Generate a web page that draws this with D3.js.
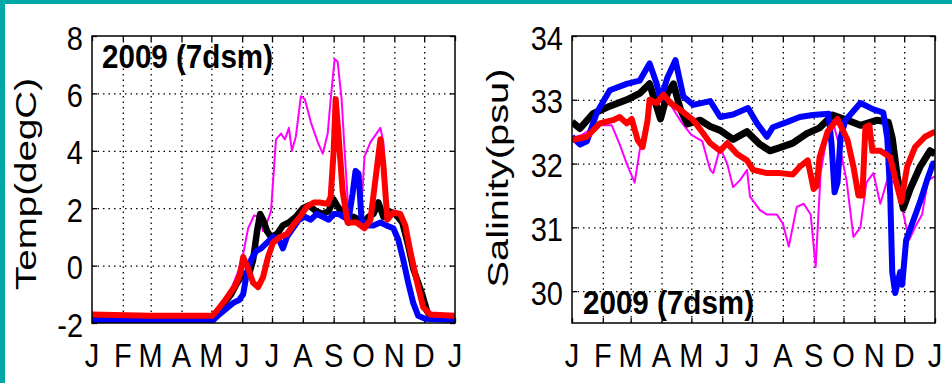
<!DOCTYPE html>
<html>
<head>
<meta charset="utf-8">
<script src="https://cdnjs.cloudflare.com/ajax/libs/d3/7.8.5/d3.min.js"></script>
<style>
  body { margin: 0; background: #fff; }
  svg { display: block; font-family: "Liberation Sans", Arial, sans-serif; }
</style>
</head>
<body>
<svg width="952" height="383"></svg>
<script>
// month letters for the x axis (Jan 2009 .. Jan 2010)
const months = ["J","F","M","A","M","J","J","A","S","O","N","D","J"];
const tempTicks = [-2, 0, 2, 4, 6, 8];
const salTicks = [30, 31, 32, 33, 34];

// [day of year, value]
const tempMagenta = [[0,-1.8],[120,-1.8],[128,-1.5],[140,-0.8],[146,-0.3],[152,0.4],[157,1.3],[163,1.75],[168,1.7],[172,1.2],[176,1.5],[180,1.9],[185,4.4],[190,4.6],[194,4.4],[198,4.8],[201,4.0],[205,4.5],[210,5.9],[214,5.8],[220,5.0],[227,4.3],[232,3.9],[237,4.6],[240,5.8],[244,7.2],[247,7.1],[251,5.8],[254,4.0],[258,1.8],[265,1.5],[270,1.5],[274,3.8],[280,4.3],[286,4.6],[290,4.8],[293,4.3],[297,1.9],[305,1.8],[315,1.4],[325,-0.5],[332,-1.4],[340,-1.75],[365,-1.8]];
const tempBlack = [[0,-1.85],[120,-1.85],[126,-1.7],[133,-1.3],[140,-1.0],[146,-0.6],[152,-0.3],[158,-0.3],[162,0.2],[166,1.2],[169,1.8],[172,1.6],[176,1.2],[180,1.0],[186,1.1],[192,1.4],[198,1.5],[205,1.7],[212,2.0],[218,2.1],[225,1.9],[232,1.8],[238,1.9],[243,2.3],[248,2.0],[253,1.9],[258,1.5],[263,1.7],[268,1.6],[273,1.5],[278,1.7],[283,1.8],[288,2.2],[293,1.7],[298,1.9],[305,1.8],[312,1.5],[318,0.7],[323,-0.1],[327,-0.5],[332,-1.0],[337,-1.6],[342,-1.85],[365,-1.85]];
const tempBlue = [[0,-1.9],[122,-1.9],[128,-1.7],[135,-1.5],[142,-1.3],[148,-1.2],[152,-1.0],[156,-0.2],[160,0.2],[165,0.5],[170,0.6],[176,0.8],[182,1.0],[188,0.9],[192,0.6],[196,1.0],[202,1.3],[208,1.6],[214,1.7],[220,1.6],[226,1.8],[232,1.7],[238,1.6],[243,1.8],[248,1.8],[253,1.7],[258,1.6],[262,2.5],[265,3.3],[268,3.2],[271,1.6],[276,1.4],[283,1.4],[290,1.5],[296,1.4],[303,1.3],[308,0.9],[313,0.2],[318,-0.6],[323,-1.3],[328,-1.75],[335,-1.85],[365,-1.9]];
const tempRed = [[0,-1.7],[58,-1.75],[121,-1.75],[125,-1.6],[134,-1.2],[144,-0.7],[149,-0.3],[152,0.3],[157,-0.1],[162,-0.6],[167,-0.75],[172,-0.4],[177,0.3],[182,0.8],[189,1.0],[196,1.1],[202,1.4],[209,1.7],[216,2.05],[223,2.2],[229,2.2],[237,2.15],[240,2.4],[243,4.0],[245,5.8],[248,4.5],[252,2.6],[257,1.5],[266,1.5],[274,1.3],[280,1.6],[285,3.0],[290,4.4],[293,3.5],[297,1.6],[303,1.85],[310,1.8],[315,1.4],[320,0.5],[327,-0.6],[333,-1.45],[340,-1.7],[365,-1.75]];

const salMagenta = [[0,32.4],[10,32.45],[25,32.6],[40,32.6],[48,32.3],[55,32.0],[63,31.7],[68,32.2],[75,32.7],[80,33.0],[90,33.05],[100,32.9],[110,32.65],[120,32.45],[131,32.35],[139,31.9],[142,31.85],[149,32.25],[156,32.0],[162,31.63],[169,31.74],[176,31.9],[179,31.48],[189,31.27],[196,31.2],[206,31.2],[212,31.06],[218,30.7],[226,31.32],[233,31.37],[240,31.2],[245,30.38],[250,31.85],[256,32.4],[262,32.68],[270,32.2],[276,31.74],[283,30.85],[290,31.0],[296,31.7],[303,31.85],[310,31.37],[317,31.74],[325,31.7],[332,31.3],[339,30.8],[345,31.0],[352,31.2],[358,31.74],[365,31.8]];
const salBlack = [[0,32.65],[8,32.55],[21,32.78],[38,32.9],[55,33.0],[68,33.1],[78,33.25],[85,32.9],[89,32.7],[96,33.1],[102,33.25],[109,32.85],[116,32.62],[129,32.68],[139,32.58],[149,32.52],[162,32.38],[176,32.5],[189,32.3],[199,32.2],[209,32.25],[222,32.32],[236,32.47],[249,32.56],[262,32.76],[277,32.68],[290,32.6],[307,32.68],[318,32.65],[322,32.4],[327,31.8],[333,31.3],[340,31.6],[350,31.95],[360,32.2],[365,32.15]];
const salBlue = [[0,32.42],[8,32.3],[15,32.35],[25,32.8],[38,33.15],[55,33.25],[68,33.3],[78,33.57],[85,33.26],[89,33.0],[96,33.35],[104,33.62],[112,33.05],[122,32.92],[139,32.98],[149,32.73],[162,32.77],[177,32.87],[186,32.63],[196,32.42],[202,32.57],[216,32.65],[229,32.73],[242,32.76],[258,32.78],[261,32.3],[264,31.55],[267,31.7],[270,32.4],[275,32.68],[290,32.95],[303,32.85],[313,32.8],[317,32.4],[320,31.5],[322,30.3],[325,29.97],[330,30.3],[332,30.1],[336,30.8],[343,31.1],[350,31.4],[357,31.74],[363,32.0],[365,32.0]];
const salRed = [[0,32.37],[15,32.42],[28,32.63],[41,32.68],[48,32.73],[55,32.63],[60,32.7],[66,32.37],[71,32.26],[76,32.68],[78,33.0],[85,32.95],[92,33.08],[99,32.95],[109,32.84],[122,32.68],[132,32.47],[139,32.32],[149,32.2],[156,32.32],[166,32.15],[176,32.05],[182,31.9],[196,31.85],[209,31.85],[222,31.83],[229,31.95],[237,32.05],[243,31.6],[246,31.65],[249,32.1],[257,32.5],[267,32.7],[277,32.37],[283,31.95],[288,31.5],[292,31.5],[295,32.57],[299,32.6],[302,32.2],[310,32.2],[320,32.1],[326,31.7],[331,31.4],[337,31.95],[345,32.26],[355,32.42],[365,32.5]];

const svg = d3.select("svg");
const t0 = new Date(2009, 0, 1);
const toDate = d => d3.timeDay.offset(t0, d);
const fs = 29, sy = 1.12;

// teal frame on top and left
svg.append("rect").attr("width", 952).attr("height", 383).attr("fill", "#fff");
svg.append("rect").attr("width", 952).attr("height", 4).attr("fill", "#00a8a6");
svg.append("rect").attr("width", 5).attr("height", 383).attr("fill", "#00a8a6");

function panel(p) {
  const top = 36, bottom = 323, left = p.left, right = p.left + 363;
  const x = d3.scaleTime().domain([t0, new Date(2010, 0, 1)]).range([left, right]);
  const y = d3.scaleLinear().domain(p.domain).range([bottom, top]);
  const g = svg.append("g");
  const mTicks = d3.timeMonth.range(t0, new Date(2010, 0, 2));

  // dotted grid
  g.append("g").attr("transform", `translate(0,${bottom})`)
    .call(d3.axisBottom(x).tickValues(mTicks.slice(1, 12)).tickSize(-(bottom - top)).tickFormat(""))
    .call(a => a.select(".domain").remove())
    .selectAll("line").attr("stroke", "#000").attr("stroke-width", 1.3).attr("stroke-dasharray", "1.5,4");
  g.append("g").attr("transform", `translate(${left},0)`)
    .call(d3.axisLeft(y).tickValues(p.ticks.filter(v => y(v) > top + 1 && y(v) < bottom - 1)).tickSize(-(right - left)).tickFormat(""))
    .call(a => a.select(".domain").remove())
    .selectAll("line").attr("stroke", "#000").attr("stroke-width", 1.3).attr("stroke-dasharray", "1.5,4");

  // inward tick marks
  const tk = [
    [d3.axisBottom(x).tickValues(mTicks), `translate(0,${bottom})`],
    [d3.axisTop(x).tickValues(mTicks), `translate(0,${top})`],
    [d3.axisLeft(y).tickValues(p.ticks), `translate(${left},0)`],
    [d3.axisRight(y).tickValues(p.ticks), `translate(${right},0)`]
  ];
  tk.forEach(([ax, tr]) => {
    g.append("g").attr("transform", tr)
      .call(ax.tickSize(-5).tickFormat(""))
      .call(a => a.select(".domain").remove())
      .selectAll("line").attr("stroke", "#000").attr("stroke-width", 1.3);
  });

  // series
  const clipId = "clip" + left;
  svg.append("clipPath").attr("id", clipId).append("rect")
    .attr("x", left).attr("y", top).attr("width", right - left).attr("height", bottom - top);
  const line = d3.line().x(d => x(toDate(d[0]))).y(d => y(d[1]));
  p.series.forEach(s => {
    g.append("path").datum(s.data)
      .attr("clip-path", `url(#${clipId})`)
      .attr("d", line)
      .attr("fill", "none")
      .attr("stroke", s.color)
      .attr("stroke-width", s.w)
      .attr("stroke-linejoin", "round");
  });

  // frame
  g.append("rect").attr("x", left).attr("y", top)
    .attr("width", right - left).attr("height", bottom - top)
    .attr("fill", "none").attr("stroke", "#000").attr("stroke-width", 1.5);

  // month letters
  g.selectAll(".mlab").data(mTicks).enter().append("text")
    .attr("transform", (d, i) => `translate(${x(d)},367) scale(1,${sy})`)
    .attr("text-anchor", "middle").attr("font-size", fs)
    .text((d, i) => months[i]);

  // y tick labels
  g.selectAll(".ylab").data(p.ticks).enter().append("text")
    .attr("transform", d => `translate(${left - 9},${y(d) + 13.5}) scale(1,${sy})`)
    .attr("text-anchor", "end").attr("font-size", fs)
    .text(d => d);

  // y axis title
  g.append("text")
    .attr("transform", `translate(${p.titleX},${p.titleY}) rotate(-90)`)
    .attr("text-anchor", "middle").attr("font-size", fs)
    .attr("textLength", p.titleLen).attr("lengthAdjust", "spacingAndGlyphs")
    .text(p.title);

  // annotation
  g.append("text")
    .attr("transform", `translate(${p.noteX},${p.noteY}) scale(1,${sy})`)
    .attr("font-size", fs).attr("font-weight", "bold")
    .attr("textLength", 171).attr("lengthAdjust", "spacingAndGlyphs")
    .text("2009 (7dsm)");
}

panel({
  left: 92, domain: [-2, 8], ticks: tempTicks,
  title: "Temp(degC)", titleX: 36, titleY: 184, titleLen: 212,
  noteX: 102, noteY: 68,
  series: [
    { data: tempMagenta, color: "#ff00ff", w: 2 },
    { data: tempBlack, color: "#000000", w: 6.5 },
    { data: tempBlue, color: "#0000ff", w: 6 },
    { data: tempRed, color: "#ff0000", w: 6 }
  ]
});

panel({
  left: 572, domain: [29.5, 34], ticks: salTicks,
  title: "Salinity(psu)", titleX: 508, titleY: 178, titleLen: 219,
  noteX: 583, noteY: 314,
  series: [
    { data: salMagenta, color: "#ff00ff", w: 2 },
    { data: salBlack, color: "#000000", w: 7 },
    { data: salBlue, color: "#0000ff", w: 6 },
    { data: salRed, color: "#ff0000", w: 6 }
  ]
});
</script>
</body>
</html>
